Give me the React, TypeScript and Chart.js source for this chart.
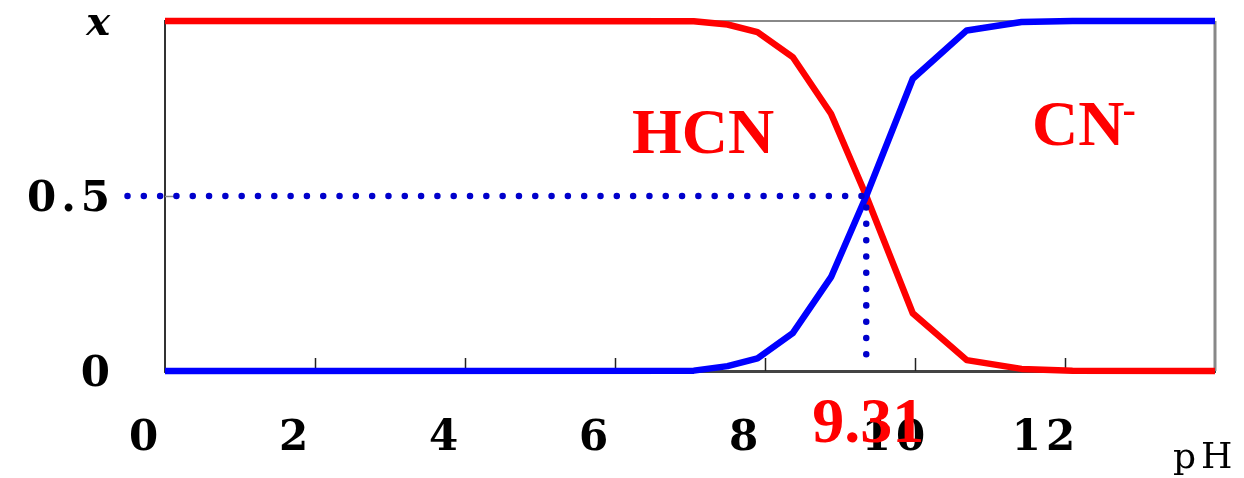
import React, { useEffect, useRef } from 'react';
import { Chart, registerables } from 'chart.js';

Chart.register(...registerables);

// Data
const pH = [0, 7.05, 7.5, 7.9, 8.37, 8.88, 9.35, 9.97, 10.69, 11.42, 12.1, 14];
const hcnFraction = [1, 0.999, 0.99, 0.968, 0.897, 0.735, 0.5, 0.165, 0.031, 0.006, 0.001, 0];
const cnFraction = [0, 0.001, 0.014, 0.036, 0.108, 0.268, 0.5, 0.835, 0.973, 0.997, 1, 1];

// Dotted guide line through the half-equivalence point
const guideX = [-0.5, 9.35, 9.35];
const guideY = [0.5, 0.5, 0.022];

const xTicks = [0, 2, 4, 6, 8, 10, 12, 14];
const xTickLabels = ['0', '2', '4', '6', '8', '10', '12', ''];
const yTicks = [0, 0.5, 1];
const yTickLabels = ['0', '0.5', 'x'];

const pKaText = '9.31';
const hcnText = 'HCN';
const cnText = 'CN';
const cnCharge = '-';
const xTitle = 'pH';

const framePlugin = {
  id: 'frame',
  beforeDraw(chart: any) {
    chart.ctx.letterSpacing = '5px';
  },
  beforeDatasetsDraw(chart: any) {
    const { ctx, chartArea: a, scales } = chart;
    const x = scales.x;
    const y = scales.y;
    ctx.save();
    ctx.strokeStyle = '#888';
    ctx.lineWidth = 2;
    ctx.beginPath();
    ctx.moveTo(a.left, a.top);
    ctx.lineTo(a.right, a.top);
    ctx.stroke();
    ctx.lineWidth = 3;
    ctx.beginPath();
    ctx.moveTo(a.right, a.top);
    ctx.lineTo(a.right, a.bottom);
    ctx.stroke();
    ctx.strokeStyle = '#222';
    ctx.lineWidth = 1.5;
    x.ticks.forEach((t: any) => {
      if (t.value > x.min && t.value < x.max) {
        const px = Math.round(x.getPixelForValue(t.value)) + 0.5;
        ctx.beginPath();
        ctx.moveTo(px, a.bottom);
        ctx.lineTo(px, a.bottom - 13);
        ctx.stroke();
      }
    });
    ctx.strokeStyle = '#888';
    y.ticks.forEach((t: any) => {
      if (t.value > y.min && t.value < y.max) {
        const py = Math.round(y.getPixelForValue(t.value)) + 0.5;
        ctx.beginPath();
        ctx.moveTo(a.left, py);
        ctx.lineTo(a.left + 14, py);
        ctx.stroke();
      }
    });
    ctx.restore();
  },
  afterDraw(chart: any) {
    const { ctx, chartArea: a, scales } = chart;
    const x = scales.x;
    ctx.save();
    ctx.letterSpacing = '0px';
    ctx.fillStyle = '#ff0000';
    ctx.textBaseline = 'alphabetic';
    ctx.textAlign = 'left';
    ctx.font = 'bold 64px "Liberation Serif"';
    ctx.fillText(hcnText, a.left + 467, a.top + 132);
    const cnLeft = a.left + 867;
    const cnBase = a.top + 124;
    ctx.fillText(cnText, cnLeft, cnBase);
    const w = ctx.measureText(cnText).width;
    ctx.font = 'bold 40px "Liberation Serif"';
    ctx.fillText(cnCharge, cnLeft + w - 2, cnBase - 22);
    ctx.font = 'bold 64px "Liberation Serif"';
    ctx.textAlign = 'center';
    ctx.fillText(pKaText, x.getPixelForValue(guideX[1]) + 2, a.bottom + 71);
    ctx.fillStyle = '#000';
    ctx.textAlign = 'left';
    ctx.letterSpacing = '5px';
    ctx.font = '36px "DejaVu Serif"';
    ctx.fillText(xTitle, a.right - 42, a.bottom + 97);
    ctx.restore();
  },
};

export default function App() {
  const ref = useRef<HTMLCanvasElement>(null);
  useEffect(() => {
    document.body.style.margin = '0';
    const canvas = ref.current;
    if (!canvas) return;
    const chart = new Chart(canvas, {
      type: 'line',
      data: {
        datasets: [
          {
            label: 'guide',
            data: guideX.map((v, i) => ({ x: v, y: guideY[i] })),
            borderColor: '#0000cc',
            borderWidth: 6.5,
            borderDash: [0.01, 16.3],
            borderCapStyle: 'round',
            pointRadius: 0,
            fill: false,
            clip: false as any,
          },
          {
            label: 'CN-',
            data: pH.map((v, i) => ({ x: v, y: cnFraction[i] })),
            borderColor: '#0000ff',
            borderWidth: 6.5,
            borderJoinStyle: 'round',
            pointRadius: 0,
            tension: 0,
            fill: false,
            clip: false as any,
          },
          {
            label: 'HCN',
            data: pH.map((v, i) => ({ x: v, y: hcnFraction[i] })),
            borderColor: '#ff0000',
            borderWidth: 6.5,
            borderJoinStyle: 'round',
            pointRadius: 0,
            tension: 0,
            fill: false,
            clip: false as any,
          },
        ],
      },
      options: {
        responsive: false,
        animation: false,
        layout: { padding: { top: 21, right: 29, left: 0, bottom: 0 } },
        plugins: {
          legend: { display: false },
          tooltip: { enabled: false },
        },
        scales: {
          x: {
            type: 'linear',
            min: 0,
            max: 14,
            afterBuildTicks: (s: any) => {
              s.ticks = xTicks.map((v) => ({ value: v }));
            },
            afterFit: (s: any) => {
              s.height = 107;
            },
            grid: {
              display: true,
              drawOnChartArea: false,
              drawTicks: true,
              tickLength: 43,
              tickColor: 'rgba(0,0,0,0)',
            },
            border: { display: true, color: '#444', width: 3 },
            ticks: {
              autoSkip: false,
              maxRotation: 0,
              labelOffset: -19,
              padding: 0,
              color: '#000',
              font: { family: 'DejaVu Serif', size: 42, weight: 'bold' },
              callback: (v: any) => xTickLabels[xTicks.indexOf(Number(v))] ?? '',
            },
          },
          y: {
            type: 'linear',
            min: 0,
            max: 1,
            afterBuildTicks: (s: any) => {
              s.ticks = yTicks.map((v) => ({ value: v }));
            },
            afterFit: (s: any) => {
              s.width = 165;
            },
            grid: {
              display: true,
              drawOnChartArea: false,
              drawTicks: true,
              tickLength: 50,
              tickColor: 'rgba(0,0,0,0)',
            },
            border: { display: true, color: '#333', width: 2 },
            ticks: {
              autoSkip: false,
              labelOffset: 4,
              padding: 0,
              color: '#000',
              font: (ctx: any) =>
                ctx.tick && ctx.tick.value === 1
                  ? { family: 'DejaVu Serif', size: 40, weight: 'bold', style: 'italic', lineHeight: 0.8 }
                  : { family: 'DejaVu Serif', size: 42, weight: 'bold', lineHeight: 0.8 },
              callback: (v: any) => yTickLabels[yTicks.indexOf(Number(v))] ?? '',
            },
          },
        },
      } as any,
      plugins: [framePlugin],
    });
    return () => chart.destroy();
  }, []);
  return (
    <div style={{ width: 1244, height: 478 }}>
      <canvas ref={ref} width={1244} height={478} />
    </div>
  );
}
